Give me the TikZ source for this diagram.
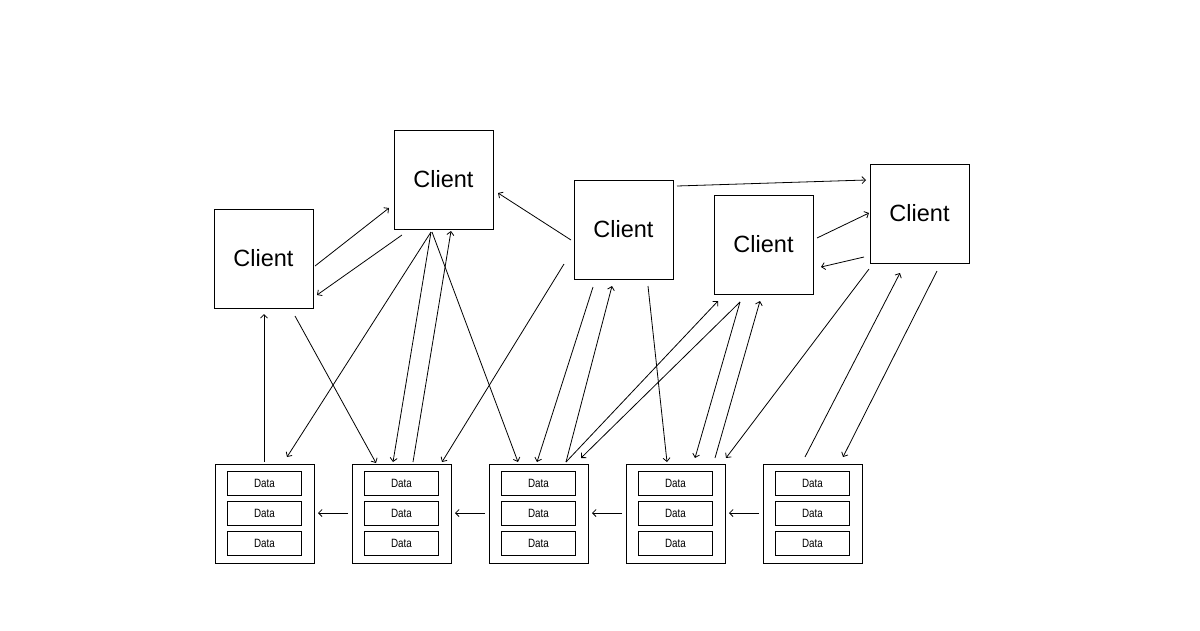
\documentclass[tikz,border=0pt]{standalone}
\usepackage{fontspec}
\setmainfont{Liberation Sans}
\newfontfamily\datafont[FakeStretch=0.82]{Liberation Sans}
\usetikzlibrary{arrows.meta}
\begin{document}
\begin{tikzpicture}[x=1pt,y=-1pt,
  client/.style={draw,line width=0.9pt,minimum width=99pt,minimum height=99pt,inner sep=0pt,font=\fontsize{23.5}{26}\selectfont},
  store/.style={draw,line width=0.9pt,minimum width=99pt,minimum height=99pt,inner sep=0pt},
  cell/.style={draw,line width=0.9pt,minimum width=74pt,minimum height=24pt,inner sep=0pt,font=\datafont\fontsize{12}{13}\selectfont},
  conn/.style={line width=0.8pt,-{Straight Barb[length=3.5pt,width=7pt]}}]
\useasboundingbox[fill=white] (0,0) rectangle (1200,630);
% clients
\node[client] (C1) at (263.5,258.5) {Client};
\node[client] (C2) at (443.5,179.5) {Client};
\node[client] (C3) at (623.5,229.5) {Client};
\node[client] (C4) at (763.5,244.5) {Client};
\node[client] (C5) at (919.5,213.5) {Client};
% data stores
\foreach \n/\x in {1/264.5,2/401.5,3/538.5,4/675.5,5/812.5}{
  \node[store] (D\n) at (\x,513.5) {};
  \node[cell] (D\n a) at ([shift={(0,-30)}]D\n.center) {Data};
  \node[cell] (D\n b) at (D\n.center) {Data};
  \node[cell] (D\n c) at ([shift={(0,30)}]D\n.center) {Data};
}
% client to client
\draw[conn] ([shift={(51.5,7.5)}]C1.center) -- ([shift={(-54.5,28.5)}]C2.center);
\draw[conn] ([shift={(-41.5,55.5)}]C2.center) -- ([shift={(53.5,36.5)}]C1.center);
\draw[conn] ([shift={(-52.5,10.5)}]C3.center) -- ([shift={(54.5,13.5)}]C2.center);
\draw[conn] ([shift={(53.5,-43.5)}]C3.center) -- ([shift={(-53.5,-33.5)}]C5.center);
\draw[conn] ([shift={(53.5,-6.5)}]C4.center) -- ([shift={(-50.5,-0.5)}]C5.center);
\draw[conn] ([shift={(-55.5,43.5)}]C5.center) -- ([shift={(57.5,22.5)}]C4.center);
% client / data
\draw[conn] ([shift={(-0.5,-51.5)}]D1.center) -- ([shift={(0.5,55.5)}]C1.center);
\draw[conn] ([shift={(31.5,57.5)}]C1.center) -- ([shift={(-25.5,-50.5)}]D2.center);
\draw[conn] ([shift={(-12.5,52.5)}]C2.center) -- ([shift={(22.5,-56.5)}]D1.center);
\draw[conn] ([shift={(-12.5,52.5)}]C2.center) -- ([shift={(-8.5,-51.5)}]D2.center);
\draw[conn] ([shift={(11.5,-51.5)}]D2.center) -- ([shift={(7.5,51.5)}]C2.center);
\draw[conn] ([shift={(-11.5,52.5)}]C2.center) -- ([shift={(-20.5,-51.5)}]D3.center);
\draw[conn] ([shift={(-59.5,34.5)}]C3.center) -- ([shift={(40.5,-51.5)}]D2.center);
\draw[conn] ([shift={(-30.5,57.5)}]C3.center) -- ([shift={(-1.5,-51.5)}]D3.center);
\draw[conn] ([shift={(27.5,-51.5)}]D3.center) -- ([shift={(-11.5,56.5)}]C3.center);
\draw[conn] ([shift={(24.5,56.5)}]C3.center) -- ([shift={(-8.5,-51.5)}]D4.center);
\draw[conn] ([shift={(27.5,-51.5)}]D3.center) -- ([shift={(-45.5,56.5)}]C4.center);
\draw[conn] ([shift={(-23.5,57.5)}]C4.center) -- ([shift={(42.5,-55.5)}]D3.center);
\draw[conn] ([shift={(-23.5,57.5)}]C4.center) -- ([shift={(19.5,-55.5)}]D4.center);
\draw[conn] ([shift={(39.5,-55.5)}]D4.center) -- ([shift={(-3.5,56.5)}]C4.center);
\draw[conn] ([shift={(-50.5,55.5)}]C5.center) -- ([shift={(50.5,-55.5)}]D4.center);
\draw[conn] ([shift={(-7.5,-56.5)}]D5.center) -- ([shift={(-19.5,59.5)}]C5.center);
\draw[conn] ([shift={(17.5,57.5)}]C5.center) -- ([shift={(30.5,-56.5)}]D5.center);
% data to data
\draw[conn] ([shift={(-53.5,-0.5)}]D2.center) -- ([shift={(53.5,-0.5)}]D1.center);
\draw[conn] ([shift={(-53.5,-0.5)}]D3.center) -- ([shift={(53.5,-0.5)}]D2.center);
\draw[conn] ([shift={(-53.5,-0.5)}]D4.center) -- ([shift={(53.5,-0.5)}]D3.center);
\draw[conn] ([shift={(-53.5,-0.5)}]D5.center) -- ([shift={(53.5,-0.5)}]D4.center);
\end{tikzpicture}
\end{document}
